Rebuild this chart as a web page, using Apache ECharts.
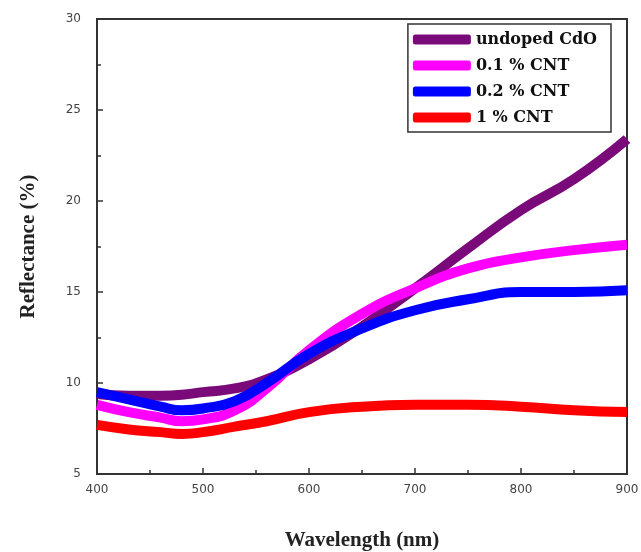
<!DOCTYPE html>
<html>
<head>
<meta charset="utf-8">
<script src="https://cdn.jsdelivr.net/npm/echarts@6/dist/echarts.min.js"></script>
<style>
  html, body { margin: 0; padding: 0; background: #fff; }
  #chart { width: 641px; height: 552px; }
</style>
</head>
<body>
<div id="chart"></div>
<script>
// wavelength (nm)
var wavelength = [400, 430, 460, 480, 500, 530, 560, 600, 650, 700, 750, 800, 850, 900];
// reflectance (%)
var undoped = [9.4, 9.3, 9.3, 9.35, 9.5, 9.7, 10.2, 11.3, 13.1, 15.2, 17.4, 19.5, 21.2, 23.4];
var cnt01   = [8.8, 8.4, 8.1, 7.9, 8.0, 8.5, 9.7, 11.8, 13.8, 15.2, 16.3, 16.9, 17.3, 17.6];
var cnt02   = [9.5, 9.1, 8.7, 8.5, 8.6, 9.0, 10.0, 11.6, 13.0, 14.0, 14.6, 15.0, 15.0, 15.1];
var cnt1    = [7.7, 7.45, 7.3, 7.2, 7.3, 7.6, 7.9, 8.4, 8.7, 8.8, 8.8, 8.7, 8.5, 8.4];

var names = ['undoped CdO', '0.1 % CNT', '0.2 % CNT', '1 % CNT'];
var colors = ['#7a0a7a', '#ff00ff', '#0000ff', '#ff0000'];
var values = [undoped, cnt01, cnt02, cnt1];

function pairs(ys) {
    var res = [];
    for (var i = 0; i < wavelength.length; i++) {
        res.push([wavelength[i], ys[i]]);
    }
    return res;
}

var chart = echarts.init(document.getElementById('chart'));
var axisCommon = {
    axisLine: { show: true, onZero: false, lineStyle: { color: '#333', width: 2 } },
    axisTick: { show: true, inside: true, length: 6, lineStyle: { color: '#333', width: 1.5 } },
    minorTick: { show: true, splitNumber: 2, length: 4, lineStyle: { color: '#333', width: 1.5 } },
    splitLine: { show: false }
};

var option = {
    animation: false,
    grid: {
        left: 97, top: 19, right: 14, bottom: 78,
        outerBoundsMode: 'none',
        show: true, borderColor: '#333', borderWidth: 2
    },
    legend: {
        data: names,
        orient: 'vertical',
        right: 30,
        top: 24,
        itemWidth: 58,
        itemHeight: 10,
        itemGap: 9,
        icon: 'roundRect',
        padding: [7, 14, 6, 5],
        borderColor: '#333',
        borderWidth: 1.5,
        backgroundColor: '#fff',
        textStyle: { fontFamily: 'DejaVu Serif', fontWeight: 'bold', fontSize: 16, color: '#111', lineHeight: 17 }
    },
    xAxis: Object.assign({
        type: 'value',
        min: 400, max: 900, interval: 100,
        name: 'Wavelength (nm)',
        nameLocation: 'middle',
        nameGap: 56,
        nameTextStyle: { fontFamily: 'Liberation Serif', fontWeight: 'bold', fontSize: 21, color: '#222' },
        axisLabel: { color: '#444', fontFamily: 'DejaVu Sans', fontSize: 12, margin: 10 }
    }, axisCommon),
    yAxis: Object.assign({
        type: 'value',
        min: 5, max: 30, interval: 5,
        name: 'Reflectance (%)',
        nameLocation: 'middle',
        nameGap: 58,
        nameTextStyle: { fontFamily: 'Liberation Serif', fontWeight: 'bold', fontSize: 21, color: '#222' },
        axisLabel: { color: '#444', fontFamily: 'DejaVu Sans', fontSize: 12, margin: 16 }
    }, axisCommon),
    series: (function () {
        var res = [];
        for (var i = 0; i < names.length; i++) {
            res.push({
                name: names[i],
                type: 'line',
                smooth: true,
                showSymbol: false,
                symbol: 'none',
                data: pairs(values[i]),
                itemStyle: { color: colors[i] },
                lineStyle: { color: colors[i], width: 10 }
            });
        }
        return res;
    })()
};
chart.setOption(option);
</script>
</body>
</html>
